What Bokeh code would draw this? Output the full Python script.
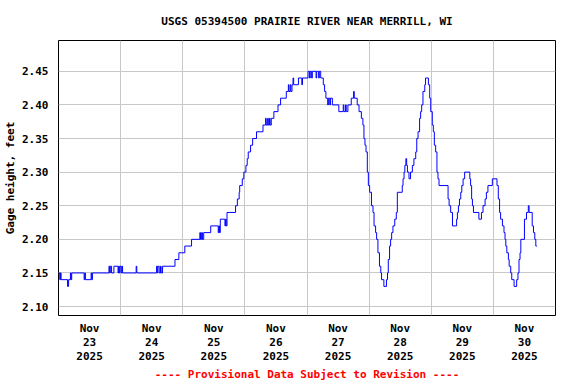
from bokeh.plotting import figure
from bokeh.models import FixedTicker, Range1d
from bokeh.embed import file_html
from bokeh.resources import INLINE

title_text = "USGS 05394500 PRAIRIE RIVER NEAR MERRILL, WI"
y_label = "Gage height, feet"
footer_text = "---- Provisional Data Subject to Revision ----"

# hours since 2025-11-23 00:00 at which the gage height changes, and new value (ft)
change_hours = [
    0, 0.5, 0.75, 1.0, 3.5, 3.9, 4.6, 4.85, 5.1, 9.9, 10.15, 10.4, 12.6, 12.85, 13.1,
    19.5, 19.75, 20.0, 20.5, 21.4, 23.0, 23.25, 23.5, 23.75, 24.2, 24.5, 24.75,
    30.0, 30.25, 37.9, 38.15, 38.4, 38.9, 39.4, 39.65, 40.2, 45.0, 46.5, 48.8,
    51.4, 54.6, 54.85, 55.3, 55.6, 56.1, 58.8, 61.7, 61.95, 62.2, 62.5, 64.3, 64.55,
    64.8, 65.1, 68.4, 69.1, 69.8, 70.0, 71.0, 71.6, 72.4, 72.9, 73.3, 74.2, 75.0,
    76.5, 79.0, 80.0, 80.25, 80.8, 81.05, 81.5, 81.75, 82.2, 83.2, 84.8, 85.8,
    88.0, 88.8, 89.0, 89.5, 89.75, 90.2, 90.6, 90.85, 92.7, 94.0, 94.25,
    96.4, 97.0, 97.25, 97.8, 98.05, 99.5, 99.75, 100.5, 100.75, 101.3, 102.3, 102.8,
    103.3, 104.0, 104.25, 104.8, 105.05, 105.8, 108.3, 110.0, 110.25, 110.9, 111.15,
    111.8, 113.1, 114.0, 114.25, 115.4, 116.1, 117.0, 117.6, 118.0, 118.4, 118.8,
    119.3, 119.7, 120.2, 120.9, 121.5, 121.9, 122.5, 122.9, 123.4, 124.0, 124.5,
    124.8, 125.7, 126.7, 127.1, 127.4, 127.9, 128.3, 128.7, 129.2, 129.9, 130.5,
    130.9, 132.8, 133.1, 133.5, 133.8, 134.2, 134.5, 134.8, 135.4, 136.0, 136.7,
    137.3, 138.0, 138.4, 138.9, 139.5, 139.9, 140.3, 140.8, 141.5, 141.8, 142.9,
    143.4, 143.8, 144.4, 144.8, 145.2, 145.7, 146.2, 146.6, 147.0, 150.5, 150.9,
    151.5, 152.2, 153.8, 154.1, 154.5, 154.9, 155.4, 155.8, 156.3, 156.9, 158.9,
    159.2, 159.6, 159.9, 160.3, 162.4, 163.4, 164.0, 164.8, 165.3, 165.9, 167.6,
    169.4, 169.9, 170.4, 170.8, 171.5, 172.1, 172.5, 172.8, 173.2, 173.8, 174.1,
    174.7, 175.1, 176.0, 177.0, 177.5, 177.9, 178.3, 178.6, 180.0, 180.8, 181.5,
    181.8, 183.0, 183.5, 184.0, 184.4, 184.8,
]
gage_height = [
    2.15, 2.14, 2.15, 2.14, 2.13, 2.14, 2.15, 2.14, 2.15, 2.14, 2.15, 2.14, 2.15, 2.14, 2.15,
    2.16, 2.15, 2.16, 2.15, 2.16, 2.15, 2.16, 2.15, 2.16, 2.15, 2.16, 2.15,
    2.16, 2.15, 2.16, 2.15, 2.16, 2.15, 2.16, 2.15, 2.16, 2.17, 2.18, 2.19,
    2.20, 2.21, 2.20, 2.21, 2.20, 2.21, 2.22, 2.21, 2.22, 2.21, 2.23, 2.22, 2.23,
    2.22, 2.24, 2.25, 2.26, 2.27, 2.28, 2.29, 2.30, 2.31, 2.32, 2.33, 2.34, 2.35,
    2.36, 2.37, 2.38, 2.37, 2.38, 2.37, 2.38, 2.37, 2.38, 2.39, 2.40, 2.41,
    2.42, 2.43, 2.42, 2.43, 2.42, 2.43, 2.44, 2.43, 2.44, 2.43, 2.44,
    2.45, 2.44, 2.45, 2.44, 2.45, 2.44, 2.45, 2.44, 2.45, 2.44, 2.43, 2.42,
    2.41, 2.40, 2.41, 2.40, 2.41, 2.40, 2.39, 2.40, 2.39, 2.40, 2.39,
    2.40, 2.41, 2.42, 2.41, 2.40, 2.39, 2.38, 2.37, 2.35, 2.34, 2.33,
    2.30, 2.28, 2.27, 2.25, 2.24, 2.22, 2.21, 2.20, 2.18, 2.16, 2.15,
    2.14, 2.13, 2.14, 2.15, 2.17, 2.19, 2.20, 2.21, 2.22, 2.23, 2.24,
    2.27, 2.28, 2.29, 2.30, 2.31, 2.32, 2.31, 2.30, 2.29, 2.30, 2.31,
    2.32, 2.33, 2.35, 2.36, 2.38, 2.39, 2.40, 2.42, 2.43, 2.44, 2.43,
    2.41, 2.39, 2.37, 2.36, 2.34, 2.33, 2.30, 2.29, 2.28, 2.26, 2.25,
    2.24, 2.22, 2.23, 2.24, 2.25, 2.26, 2.27, 2.28, 2.29, 2.30, 2.29,
    2.28, 2.26, 2.25, 2.24, 2.23, 2.24, 2.25, 2.26, 2.27, 2.28, 2.29,
    2.28, 2.26, 2.24, 2.23, 2.22, 2.21, 2.20, 2.19, 2.18, 2.17, 2.16,
    2.15, 2.14, 2.13, 2.14, 2.15, 2.17, 2.18, 2.20, 2.23, 2.24, 2.25,
    2.24, 2.22, 2.21, 2.20, 2.19, 2.19,
]

day_label_hours = [12, 36, 60, 84, 108, 132, 156, 180]
day_labels = ["Nov\n23\n2025", "Nov\n24\n2025", "Nov\n25\n2025", "Nov\n26\n2025",
              "Nov\n27\n2025", "Nov\n28\n2025", "Nov\n29\n2025", "Nov\n30\n2025"]
day_boundary_hours = [24, 48, 72, 96, 120, 144, 168]
y_ticks = [2.10, 2.15, 2.20, 2.25, 2.30, 2.35, 2.40, 2.45]
y_tick_labels = ["2.10", "2.15", "2.20", "2.25", "2.30", "2.35", "2.40", "2.45"]

FONT = "DejaVu Sans Mono"

p = figure(width=576, height=384, output_backend="svg", toolbar_location=None,
           x_range=Range1d(0, 192), y_range=Range1d(2.0867, 2.4958),
           min_border_left=58, min_border_right=21, min_border_top=39, min_border_bottom=68)
p.background_fill_color = "white"
p.border_fill_color = "white"
p.outline_line_color = "black"
p.outline_line_width = 1
p.outline_line_alpha = 1.0

p.title.text = title_text
p.title.align = "center"
p.title.text_font = FONT
p.title.text_font_size = "11px"
p.title.text_font_style = "bold"
p.title.text_color = "black"
p.title.standoff = 25

p.step(change_hours, gage_height, mode="after", line_color="#0000ff", line_width=1)

xa = p.xaxis[0]
xa.ticker = FixedTicker(ticks=day_label_hours)
xa.major_label_overrides = {h: lab for h, lab in zip(day_label_hours, day_labels)}
xa.axis_label = footer_text
ya = p.yaxis[0]
ya.ticker = FixedTicker(ticks=y_ticks)
ya.major_label_overrides = {v: lab for v, lab in zip(y_ticks, y_tick_labels)}
ya.axis_label = y_label
for ax in (xa, ya):
    ax.axis_line_color = None
    ax.major_tick_line_color = None
    ax.minor_tick_line_color = None
    ax.major_label_text_font = FONT
    ax.major_label_text_font_size = "11px"
    ax.major_label_text_font_style = "bold"
    ax.major_label_text_color = "black"
    ax.axis_label_text_font = FONT
    ax.axis_label_text_font_size = "11px"
    ax.axis_label_text_font_style = "bold"
    ax.axis_label_text_color = "black"
xa.axis_label_text_color = "#ff0000"
xa.axis_label_standoff = 2
xa.major_label_standoff = 0
xa.major_label_text_line_height = 1.1
ya.major_label_standoff = 4
ya.axis_label_standoff = 2

p.xgrid.ticker = FixedTicker(ticks=day_boundary_hours)
p.ygrid.ticker = FixedTicker(ticks=y_ticks)
for g in (p.xgrid, p.ygrid):
    g.grid_line_color = "#c8c8c8"
    g.grid_line_width = 1

open("out.html", "w").write(file_html(p, INLINE))
